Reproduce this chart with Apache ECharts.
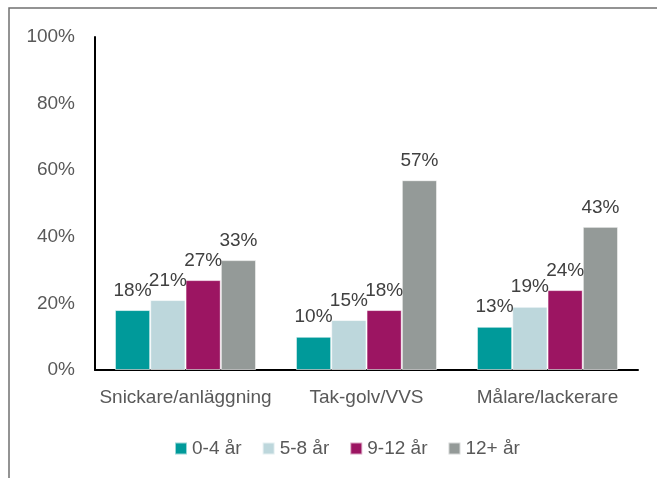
<!DOCTYPE html>
<html>
<head>
<meta charset="utf-8">
<script src="https://cdn.jsdelivr.net/npm/echarts@6/dist/echarts.min.js"></script>
<style>
  html, body { margin: 0; padding: 0; background: #fff; }
  #chart { width: 657px; height: 478px; }
</style>
</head>
<body>
<div id="chart"></div>
<script>
// data
var categories = ["Snickare/anläggning", "Tak-golv/VVS", "Målare/lackerare"];
var seriesNames = ["0-4 år", "5-8 år", "9-12 år", "12+ år"];
var values_0_4 = [18, 10, 13];
var values_5_8 = [21, 15, 19];
var values_9_12 = [27, 18, 24];
var values_12plus = [33, 57, 43];
var yTicks = [0, 20, 40, 60, 80, 100];

var colors = ["#009a9a", "#bdd7dc", "#9c1562", "#949a98"];
var allValues = [values_0_4, values_5_8, values_9_12, values_12plus];

var myChart = echarts.init(document.getElementById("chart"));

var font = "'Liberation Sans', Arial, sans-serif";

var series = allValues.map(function (vals, i) {
    return {
        name: seriesNames[i],
        type: "bar",
        data: vals,
        barGap: "0%",
        barCategoryGap: "22%",
        itemStyle: { color: colors[i], borderColor: "rgba(255,255,255,0.6)", borderWidth: 1 },
        label: {
            show: true,
            position: "top",
            distance: 10,
            formatter: "{c}%",
            color: "#404040",
            fontSize: 19,
            fontFamily: font,
        },
    };
});

myChart.setOption({
    animation: false,
    color: colors,
    graphic: [
        {
            // outer frame, cut off at right and bottom
            type: "rect",
            shape: { x: 9, y: 8, width: 700, height: 520 },
            style: { fill: "none", stroke: "#707070", lineWidth: 1.5 },
            silent: true,
        },
    ],
    legend: {
        data: seriesNames,
        bottom: 15,
        left: 169,
        icon: "rect",
        itemWidth: 12,
        itemHeight: 12,
        itemGap: 20,
        textStyle: { color: "#595959", fontSize: 19, fontFamily: font },
    },
    grid: { left: 95, right: 19, top: 37, bottom: 108, containLabel: false },
    xAxis: {
        type: "category",
        data: categories,
        axisLine: { lineStyle: { color: "#000", width: 2 } },
        axisTick: { show: false },
        axisLabel: { interval: 0, color: "#595959", fontSize: 19, fontFamily: font, margin: 18 },
    },
    yAxis: {
        type: "value",
        min: yTicks[0],
        max: yTicks[yTicks.length - 1],
        interval: 20,
        axisLine: { show: true, lineStyle: { color: "#000", width: 2 } },
        axisTick: { show: false },
        splitLine: { show: false },
        axisLabel: { color: "#595959", fontSize: 19, fontFamily: font, margin: 20, formatter: "{value}%" },
    },
    series: series,
});

window.addEventListener("resize", function () {
    myChart.resize();
});
</script>
</body>
</html>
